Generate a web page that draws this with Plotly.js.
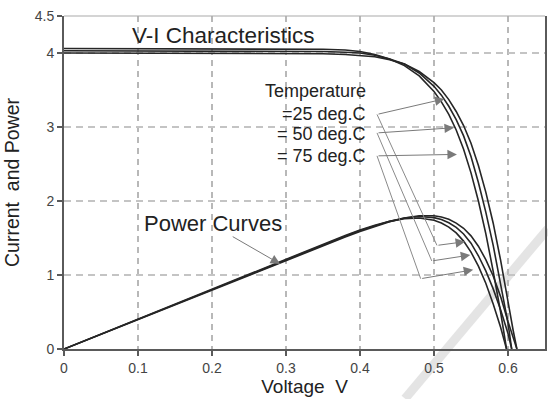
<!DOCTYPE html>
<html>
<head>
<meta charset="utf-8">
<script src="https://cdn.plot.ly/plotly-3.0.1.min.js"></script>
<style>html,body{margin:0;padding:0;background:#fff;}#chart{width:548px;height:399px;}</style>
</head>
<body>
<div id="chart"></div>
<script>
// Voltage samples (V) and readings for the three temperatures
const volt75 = [0, 0.1, 0.2, 0.3, 0.35, 0.38, 0.40, 0.42, 0.44, 0.46, 0.48, 0.50, 0.51, 0.52, 0.53, 0.54, 0.55, 0.56, 0.57, 0.58, 0.59, 0.598];
const curr75 = [4.06, 4.06, 4.06, 4.05, 4.05, 4.04, 4.02, 3.98, 3.92, 3.83, 3.69, 3.48, 3.34, 3.17, 2.96, 2.70, 2.38, 2.00, 1.56, 1.05, 0.50, 0];
const pow75  = [0, 0.406, 0.812, 1.215, 1.418, 1.535, 1.608, 1.672, 1.725, 1.762, 1.771, 1.740, 1.703, 1.648, 1.569, 1.458, 1.309, 1.120, 0.889, 0.609, 0.295, 0];

const volt50 = [0, 0.1, 0.2, 0.3, 0.35, 0.38, 0.40, 0.42, 0.44, 0.46, 0.48, 0.50, 0.51, 0.52, 0.53, 0.54, 0.55, 0.56, 0.57, 0.58, 0.59, 0.60, 0.605];
const curr50 = [4.03, 4.03, 4.03, 4.02, 4.02, 4.01, 4.00, 3.97, 3.92, 3.85, 3.73, 3.55, 3.43, 3.28, 3.10, 2.88, 2.60, 2.25, 1.85, 1.40, 0.90, 0.35, 0];
const pow50  = [0, 0.403, 0.806, 1.206, 1.407, 1.524, 1.600, 1.667, 1.725, 1.771, 1.790, 1.775, 1.749, 1.706, 1.643, 1.555, 1.430, 1.260, 1.055, 0.812, 0.531, 0.210, 0];

const volt25 = [0, 0.1, 0.2, 0.3, 0.35, 0.38, 0.40, 0.42, 0.44, 0.46, 0.48, 0.50, 0.51, 0.52, 0.53, 0.54, 0.55, 0.56, 0.57, 0.58, 0.59, 0.60, 0.607, 0.612];
const curr25 = [4.00, 4.00, 4.00, 3.99, 3.99, 3.98, 3.97, 3.95, 3.91, 3.85, 3.75, 3.60, 3.50, 3.37, 3.21, 3.02, 2.78, 2.48, 2.12, 1.70, 1.20, 0.62, 0.25, 0];
const pow25  = [0, 0.400, 0.800, 1.197, 1.397, 1.512, 1.588, 1.659, 1.720, 1.771, 1.800, 1.800, 1.785, 1.752, 1.701, 1.631, 1.529, 1.389, 1.208, 0.986, 0.708, 0.372, 0.152, 0];

const xTicks = [0, 0.1, 0.2, 0.3, 0.4, 0.5, 0.6];
const xTickLabels = ['0', '0.1', '0.2', '0.3', '0.4', '0.5', '0.6'];
const yTicks = [0, 1, 2, 3, 4, 4.5];
const yTickLabels = ['0', '1', '2', '3', '4', '4.5'];
const tempLabels = ['=25 deg.C', '= 50 deg.C', '= 75 deg.C'];

const lineStyle = {color: '#262626', width: 1.6};
const traces = [
  [volt25, curr25], [volt50, curr50], [volt75, curr75],
  [volt25, pow25], [volt50, pow50], [volt75, pow75]
].map(([x, y]) => ({x, y, type: 'scatter', mode: 'lines', line: lineStyle, hoverinfo: 'skip', showlegend: false}));

const FONT = 'Liberation Sans, Arial, sans-serif';
const grayArrow = {showarrow: true, arrowhead: 2, arrowsize: 1.9, arrowwidth: 1, arrowcolor: '#7a7a7a', axref: 'x', ayref: 'y', text: ''};
const annotations = [
  {x: 0.215, y: 4.23, text: 'V-I Characteristics', showarrow: false, font: {family: FONT, size: 22.5, color: '#222'}},
  {x: 0.411, y: 3.49, text: 'Temperature', showarrow: false, xanchor: 'right', font: {family: FONT, size: 18, color: '#222'}},
  {x: 0.411, y: 3.18, text: tempLabels[0], showarrow: false, xanchor: 'right', font: {family: FONT, size: 18, color: '#222'}},
  {x: 0.411, y: 2.91, text: tempLabels[1], showarrow: false, xanchor: 'right', font: {family: FONT, size: 18, color: '#222'}},
  {x: 0.411, y: 2.61, text: tempLabels[2], showarrow: false, xanchor: 'right', font: {family: FONT, size: 18, color: '#222'}},
  {x: 0.201, y: 1.69, text: 'Power Curves', showarrow: false, font: {family: FONT, size: 22, color: '#222'}},
  Object.assign({}, grayArrow, {x: 0.292, y: 1.15, ax: 0.226, ay: 1.53}),
  Object.assign({}, grayArrow, {x: 0.514, y: 3.38, ax: 0.423, ay: 3.17}),
  Object.assign({}, grayArrow, {x: 0.527, y: 2.99, ax: 0.423, ay: 2.92}),
  Object.assign({}, grayArrow, {x: 0.531, y: 2.63, ax: 0.423, ay: 2.61}),
  Object.assign({}, grayArrow, {x: 0.542, y: 1.45, ax: 0.504, ay: 1.40}),
  Object.assign({}, grayArrow, {x: 0.549, y: 1.27, ax: 0.497, ay: 1.19}),
  Object.assign({}, grayArrow, {x: 0.553, y: 1.07, ax: 0.482, ay: 0.95})
];

const thin = {color: '#8a8a8a', width: 1};
const shapes = [
  // watermark stroke
  {type: 'line', xref: 'paper', yref: 'paper', x0: 0.709, y0: -0.149, x1: 1.006, y1: 0.361, line: {color: 'rgba(205,205,205,0.55)', width: 9}, layer: 'below'},
  // darker horizontal grid lines
  {type: 'line', xref: 'paper', yref: 'y', x0: 0, x1: 1, y0: 2, y1: 2, line: {color: '#7a7a7a', width: 1.3, dash: '7px,5px'}, layer: 'below'},
  {type: 'line', xref: 'paper', yref: 'y', x0: 0, x1: 1, y0: 3, y1: 3, line: {color: '#7a7a7a', width: 1.3, dash: '7px,5px'}, layer: 'below'},
  {type: 'line', xref: 'paper', yref: 'y', x0: 0, x1: 1, y0: 4, y1: 4, line: {color: '#7a7a7a', width: 1.3, dash: '7px,5px'}, layer: 'below'},
  // top border
  {type: 'line', xref: 'paper', yref: 'paper', x0: 0, x1: 1, y0: 1, y1: 1, line: {color: '#aaaaaa', width: 1.2}},
  // leader lines from temperature labels down to the power-curve arrows
  {type: 'line', xref: 'x', yref: 'y', x0: 0.423, y0: 3.17, x1: 0.504, y1: 1.40, line: thin},
  {type: 'line', xref: 'x', yref: 'y', x0: 0.423, y0: 2.92, x1: 0.497, y1: 1.19, line: thin},
  {type: 'line', xref: 'x', yref: 'y', x0: 0.423, y0: 2.61, x1: 0.482, y1: 0.95, line: thin}
];

const layout = {
  width: 548, height: 399,
  margin: {l: 64, r: 3, t: 16, b: 50},
  paper_bgcolor: '#fff', plot_bgcolor: '#fff',
  showlegend: false,
  font: {family: FONT, color: '#333'},
  xaxis: {
    range: [0, 0.65], tickvals: xTicks, ticktext: xTickLabels,
    showgrid: true, gridcolor: '#b8b8b8', griddash: '6px,5px', gridwidth: 1.2,
    zeroline: false, showline: true, linecolor: '#5a5a5a', linewidth: 2, mirror: false,
    ticks: 'outside', ticklen: 5, tickcolor: '#5a5a5a', tickwidth: 1.5,
    tickfont: {family: FONT, size: 14, color: '#444'},
    title: {text: 'Voltage\u00a0\u00a0V', font: {family: FONT, size: 19, color: '#222'}, standoff: 5}
  },
  yaxis: {
    range: [0, 4.5], tickvals: yTicks, ticktext: yTickLabels,
    showgrid: true, gridcolor: '#c4c4c4', griddash: '7px,5px', gridwidth: 1.2,
    zeroline: false, showline: true, linecolor: '#5a5a5a', linewidth: 2, mirror: true,
    ticks: 'outside', ticklen: 5, tickcolor: '#5a5a5a', tickwidth: 1.5,
    tickfont: {family: FONT, size: 14, color: '#444'},
    title: {text: 'Current\u00a0\u00a0and Power', font: {family: FONT, size: 19.5, color: '#222'}, standoff: 10}
  },
  annotations, shapes
};

Plotly.newPlot('chart', traces, layout, {staticPlot: true, displayModeBar: false});
</script>
</body>
</html>
